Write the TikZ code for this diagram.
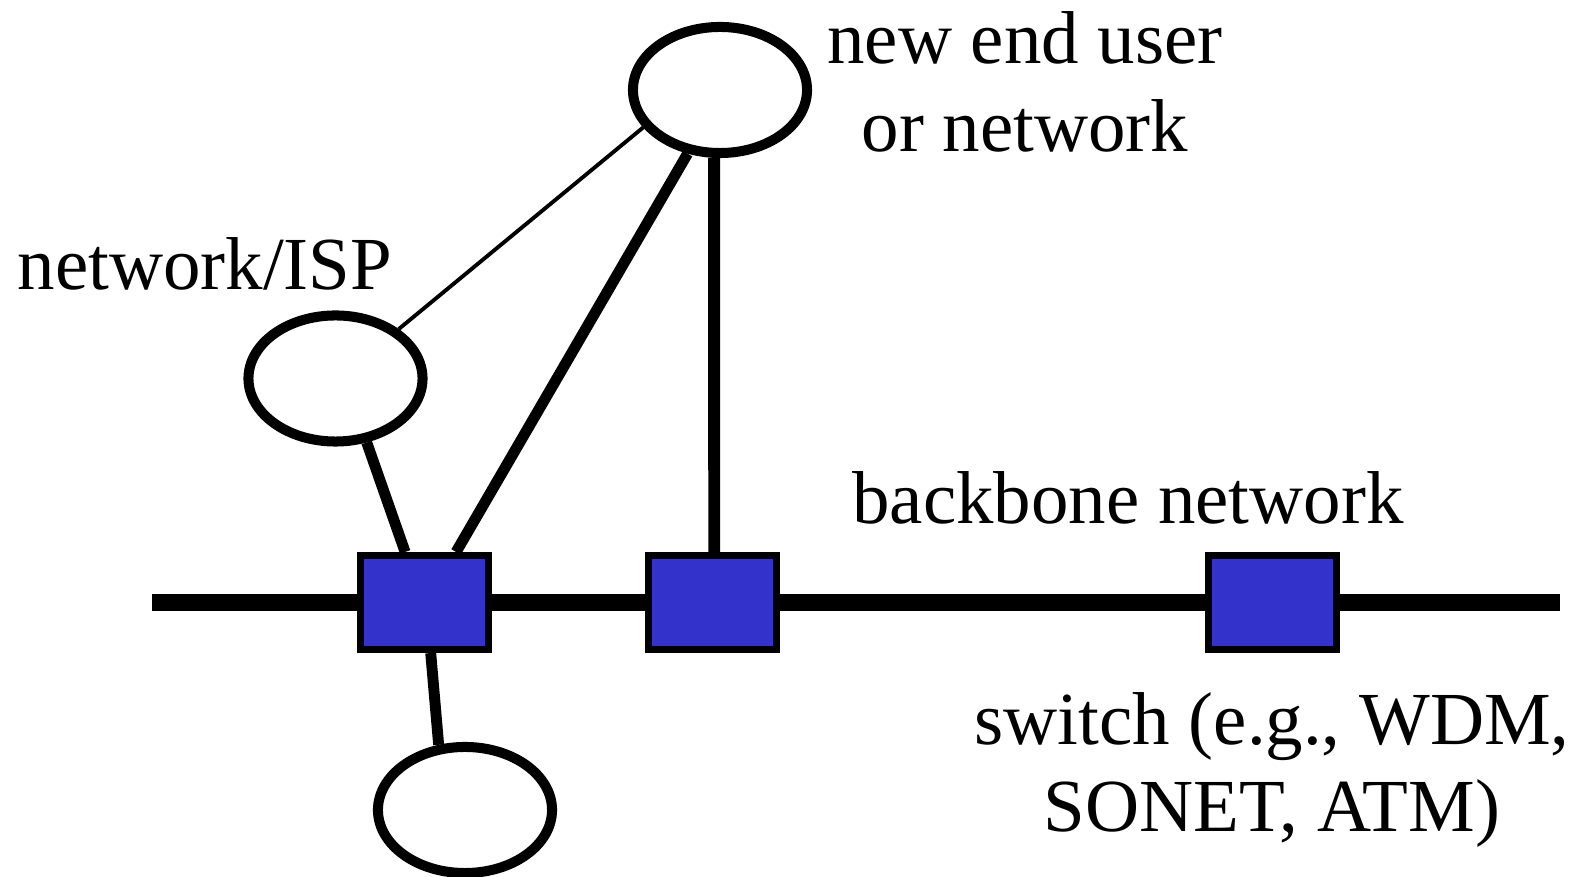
\documentclass[tikz,border=0pt]{standalone}
\usepackage{fontspec}
\setmainfont{Liberation Serif}
\usepackage{xcolor}
\usepackage{tikz}
\usetikzlibrary{shapes.geometric}
\definecolor{switchblue}{HTML}{3333CC}
\tikzset{
  netellipse/.style={draw=black,fill=white,ellipse,line width=2.85pt,inner sep=0pt,
    minimum width=1.74cm,minimum height=1.26cm},
  switchbox/.style={draw=black,fill=switchblue,line width=2pt,inner sep=0pt,
    minimum width=1.28cm,minimum height=0.94cm},
  backboneline/.style={line width=4.6pt},
  thicklink/.style={line width=3.1pt},
  thinlink/.style={line width=1.1pt},
  figurelabel/.style={font=\fontsize{21.3}{25}\selectfont,align=center,inner sep=0pt}
}
\begin{document}
\begin{tikzpicture}[x=0.01cm,y=-0.01cm]
  \useasboundingbox (0,0) rectangle (1572,877);
  % 主干线
  \coordinate (bbw) at (152,602.5);
  \coordinate (bbe) at (1560,602.5);
  \draw[backboneline] (bbw)--(bbe);
  % 交换机
  \node[switchbox] (sw1) at (424.5,602.5) {};
  \node[switchbox] (sw2) at (712.5,602.5) {};
  \node[switchbox] (sw3) at (1272.5,602.5) {};
  % 接入网络
  \node[netellipse] (user) at (720,90) {};
  \node[netellipse] (isp) at (335.5,378.5) {};
  \node[netellipse] (lower) at (465,810) {};
  % 连线
  \draw[thinlink] (user.206)--(isp.38);
  \draw[thicklink] (user.243)--(sw1.58);
  \draw[line width=3.4pt] (user.265)--(sw2.88);
  \draw[thicklink] (isp.296)--(sw1.111);
  \draw[thicklink] (sw1.277)--(lower.112);
  % 文字
  \node[figurelabel] (userlabel) at (1025,82) {new end user\\or network};
  \node[figurelabel,anchor=west] (isplabel) at (17,264) {network/ISP};
  \node[figurelabel] (bblabel) at (1128,498) {backbone network};
  \node[figurelabel] (swlabel) at (1272,770) {switch (e.g., WDM,\\SONET, ATM)};
\end{tikzpicture}
\end{document}
